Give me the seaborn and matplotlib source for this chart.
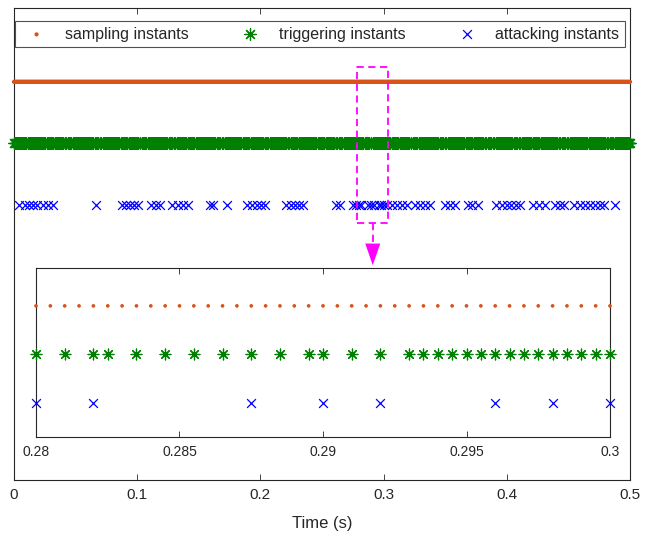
import numpy as np
import pandas as pd
import matplotlib
matplotlib.use("Agg")
import matplotlib.pyplot as plt
import seaborn as sns

# ---------------- data ----------------
sampling_period = 0.0005          # s
t_end = 0.5
# gaps (in sampling periods) between consecutive triggering instants, read from the zoomed window
trigger_gap_pattern = [2, 2, 1, 2, 2, 2, 2, 2, 2, 2, 1, 2, 2, 2,
                       1, 1, 1, 1, 1, 1, 1, 1, 1, 1, 1, 1, 1, 1]
attack_times = [0.004, 0.009, 0.012, 0.0155, 0.0185, 0.0235, 0.0275, 0.0315,
                0.0665, 0.0875, 0.091, 0.094, 0.0975, 0.1005, 0.111, 0.115, 0.1185,
                0.128, 0.133, 0.137, 0.141, 0.159, 0.1615, 0.173, 0.189, 0.193,
                0.197, 0.2005, 0.2035, 0.221, 0.225, 0.228, 0.2315, 0.2345,
                0.2615, 0.2645, 0.275, 0.2775,
                0.28, 0.282, 0.2875, 0.29, 0.292, 0.296, 0.298, 0.3,
                0.303, 0.307, 0.311, 0.315, 0.319, 0.3255, 0.3295, 0.3335, 0.3375,
                0.35, 0.354, 0.358, 0.3685, 0.372, 0.3765, 0.391, 0.396, 0.4,
                0.4035, 0.4075, 0.4105, 0.421, 0.426, 0.431, 0.439, 0.443, 0.4465,
                0.4545, 0.4595, 0.4635, 0.4675, 0.4715, 0.4755, 0.479, 0.488]
series_labels = ["sampling instants", "triggering instants", "attacking instants"]
main_ticks = [0, 0.1, 0.2, 0.3, 0.4, 0.5]
main_tick_labels = ["0", "0.1", "0.2", "0.3", "0.4", "0.5"]
inset_ticks = [0.28, 0.285, 0.29, 0.295, 0.3]
inset_tick_labels = ["0.28", "0.285", "0.29", "0.295", "0.3"]
zoom_window = (0.28, 0.3)

# ---------------- build series ----------------
n_samples = int(round(t_end / sampling_period))
sample_idx = np.arange(n_samples + 1)
sample_times = sample_idx * sampling_period
trig_idx = [0]
k = 0
while True:
    step = trigger_gap_pattern[k % len(trigger_gap_pattern)]
    if trig_idx[-1] + step > n_samples:
        break
    trig_idx.append(trig_idx[-1] + step)
    k += 1
attack_idx = [int(round(a / sampling_period)) for a in attack_times]
trig_idx = sorted(set(trig_idx) | set(attack_idx))
trigger_times = np.array(trig_idx) * sampling_period
attack_arr = np.array(attack_idx) * sampling_period

rows = {series_labels[0]: 3, series_labels[1]: 2, series_labels[2]: 1}
df = pd.concat([
    pd.DataFrame({"t": sample_times, "y": rows[series_labels[0]], "kind": series_labels[0]}),
    pd.DataFrame({"t": trigger_times, "y": rows[series_labels[1]], "kind": series_labels[1]}),
    pd.DataFrame({"t": attack_arr, "y": rows[series_labels[2]], "kind": series_labels[2]}),
], ignore_index=True)

# ---------------- style ----------------
sns.set_theme(style="white")
plt.rcParams["font.family"] = ["Liberation Sans", "DejaVu Sans"]
colors = {series_labels[0]: "#D95319", series_labels[1]: "#008000", series_labels[2]: "#0000FF"}
asterisk = (8, 2, 0)
markers = {series_labels[0]: "o", series_labels[1]: asterisk, series_labels[2]: "x"}
sizes_main = {series_labels[0]: 9, series_labels[1]: 70, series_labels[2]: 40}
lw = {series_labels[0]: 0, series_labels[1]: 0.9, series_labels[2]: 0.9}

fig = plt.figure(figsize=(6.46, 5.44), dpi=100)
ax = fig.add_axes([14/646, 1-480/544, 616/646, 472/544])

for lab in series_labels:
    sub = df[df["kind"] == lab]
    sns.scatterplot(data=sub, x="t", y="y", ax=ax, color=colors[lab], marker=markers[lab],
                    s=sizes_main[lab], linewidth=lw[lab], edgecolor=colors[lab] if lab != series_labels[0] else "none",
                    label=lab, clip_on=False, zorder=3, legend=True)

ax.set_xlim(0, 0.5)
ax.set_ylim(-3.47, 4.2)
ax.set_xticks(main_ticks)
ax.set_xticklabels(main_tick_labels, fontsize=11)
ax.set_yticks([])
ax.set_ylabel("")
ax.set_xlabel("Time (s)", fontsize=12, labelpad=10)
ax.tick_params(axis="x", direction="in", length=4, width=0.6, top=True, bottom=True,
               color="#262626", pad=6)
for sp in ax.spines.values():
    sp.set_color("#262626")
    sp.set_linewidth(0.8)

leg = ax.legend(loc="lower left", bbox_to_anchor=(0.0016, 0.917, 0.9903, 0.0576), mode="expand",
                ncol=3, frameon=True, fancybox=False, fontsize=11.5, borderaxespad=0,
                handletextpad=0.8, columnspacing=1.0, borderpad=0.35, markerscale=1.0)
leg.get_frame().set_edgecolor("#262626")
leg.get_frame().set_linewidth(0.8)

# magenta dashed zoom box and arrow
mag = "#FF00FF"
bx0, bx1, by0, by1 = 0.2786, 0.3038, 0.707, 3.244
ax.plot([bx0, bx1, bx1, bx0, bx0], [by0, by0, by1, by1, by0], color=mag, lw=1.3,
        ls=(0, (4, 2.5)), zorder=4)
xm = (bx0 + bx1) / 2
ax.plot([xm, xm], [by0, 0.33], color=mag, lw=1.3, ls=(0, (4, 2.5)), zorder=4)
ax.annotate("", xy=(xm, 0.02), xytext=(xm, 0.33),
            arrowprops=dict(arrowstyle="-|>,head_length=1.3,head_width=0.45", color=mag, lw=0,
                            shrinkA=0, shrinkB=0), zorder=4)

# inset
ins = fig.add_axes([36/646, 1-437/544, 574/646, 169/544])
ins.set_facecolor("white")
sizes_in = {series_labels[0]: 7, series_labels[1]: 60, series_labels[2]: 40}
lo, hi = zoom_window
for lab in series_labels:
    sub = df[(df["kind"] == lab) & (df["t"] >= lo - 1e-9) & (df["t"] <= hi + 1e-9)]
    sns.scatterplot(data=sub, x="t", y="y", ax=ins, color=colors[lab], marker=markers[lab],
                    s=sizes_in[lab], linewidth=lw[lab], edgecolor=colors[lab] if lab != series_labels[0] else "none",
                    clip_on=False, zorder=3, legend=False)
ins.set_xlim(lo, hi)
ins.set_ylim(0.3, 3.78)
ins.set_xticks(inset_ticks)
ins.set_xticklabels(inset_tick_labels, fontsize=10)
ins.set_yticks([])
ins.set_xlabel("")
ins.set_ylabel("")
ins.tick_params(axis="x", direction="in", length=4, width=0.6, top=True, bottom=True,
                color="#262626", pad=6)
for sp in ins.spines.values():
    sp.set_color("#262626")
    sp.set_linewidth(0.8)

fig.savefig("out.png", dpi=100)
